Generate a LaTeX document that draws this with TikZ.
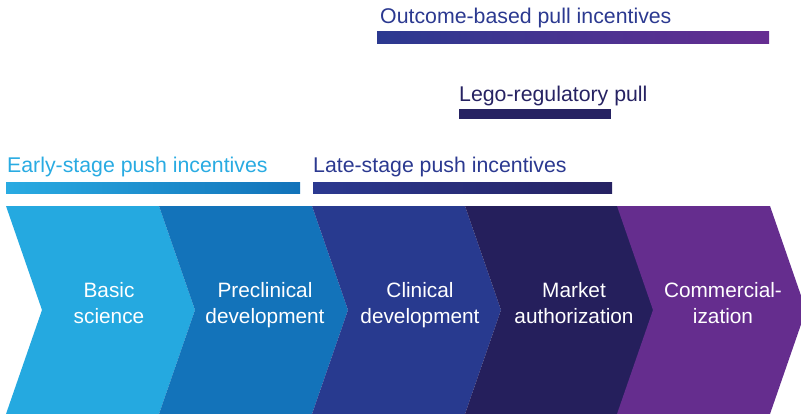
\documentclass[tikz,border=0pt]{standalone}
\usepackage{fontspec}
\setmainfont{Liberation Sans}
\definecolor{cA}{HTML}{25A9E0}
\definecolor{cB}{HTML}{1373BA}
\definecolor{cC}{HTML}{283A8F}
\definecolor{cD}{HTML}{251F5C}
\definecolor{cE}{HTML}{652D8E}
\definecolor{tEarly}{HTML}{29ABE2}
\definecolor{tLate}{HTML}{2B3990}
\definecolor{tLego}{HTML}{262262}
\definecolor{tOut}{HTML}{2B3990}
\definecolor{gEarlyR}{HTML}{1272B9}
\definecolor{gOutR}{HTML}{662D91}
\begin{document}
\begin{tikzpicture}[x=1pt,y=-1pt,
  lbl/.style={text=white,font=\fontsize{20.8}{26}\selectfont,align=center,inner sep=0pt,anchor=base},
  ttl/.style={font=\fontsize{21.3}{25}\selectfont,inner sep=0pt,anchor=base west}]
\useasboundingbox (0,0) rectangle (801,413);
\def\chev#1#2{\fill[#2] (#1,206) -- (#1+153,206) -- (#1+189,310) -- (#1+153,414) -- (#1,414) -- (#1+36,310) -- cycle;}
\chev{6}{cA}
\chev{159}{cB}
\chev{312}{cC}
\chev{465}{cD}
\chev{617}{cE}
\node[lbl] (s1) at (109,323) {Basic\\science};
\node[lbl] (s2) at (265,323) {Preclinical\\development};
\node[lbl] (s3) at (420,323) {Clinical\\development};
\node[lbl] (s4) at (574,323) {Market\\authorization};
\node[lbl] (s5) at (723,323) {Commercial-\\ization};
% bars
\shade[left color=tEarly,right color=gEarlyR] (6,182) rectangle (300,193);
\shade[left color=tLate,right color=tLego] (313,182) rectangle (612,193);
\fill[tLego] (459,109) rectangle (611,119);
\shade[left color=tOut,right color=gOutR] (377,31) rectangle (769,43);
\node[ttl,text=tEarly] (early) at (7,172) {Early-stage push incentives};
\node[ttl,text=tLate] (late) at (313,172) {Late-stage push incentives};
\node[ttl,text=tLego] (lego) at (459,101) {Lego-regulatory pull};
\node[ttl,text=tOut] (out) at (380,23) {Outcome-based pull incentives};
\end{tikzpicture}
\end{document}
